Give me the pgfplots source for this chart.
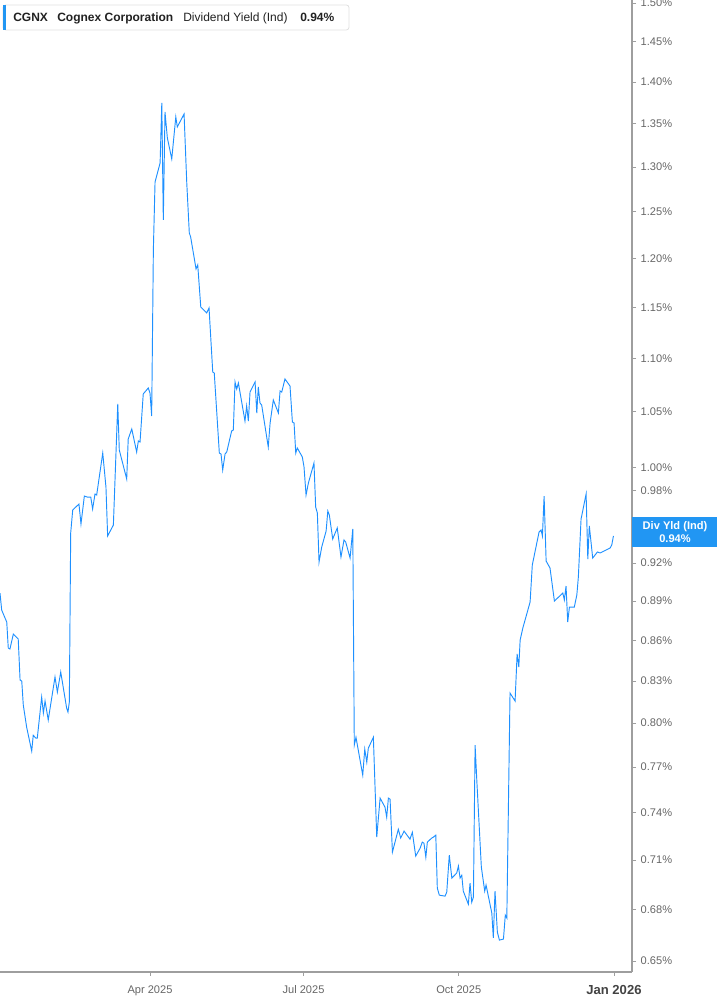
\documentclass[border=0pt]{standalone}
\usepackage{fontspec}
\setmainfont{Liberation Sans}
\usepackage{pgfplots}
\pgfplotsset{compat=1.18}
\definecolor{yldblue}{HTML}{1E90FF}
\definecolor{boxblue}{HTML}{2196F3}
\definecolor{axisgray}{HTML}{9E9E9E}
\definecolor{ticktext}{HTML}{666666}
\definecolor{headtext}{HTML}{222222}

\begin{document}
\begin{tikzpicture}
% fix the page to the reference size before anything else is drawn
\path[use as bounding box] (0,0) rectangle (537.75pt,753.75pt);
\begin{axis}[
    at={(0pt,24.75pt)}, anchor=south west,
    scale only axis, width=474pt, height=729pt,
    xmin=1.1, xmax=375.7,
    ymode=log, ymin=0.6438, ymax=1.504,
    axis x line*=bottom, axis y line*=right,
    axis line style={axisgray, line width=0.8pt},
    tick align=outside, major tick length=3pt,
    tick style={axisgray, line width=0.6pt},
    xtick={90,181,273,365},
    xticklabels={Apr 2025, Jul 2025, Oct 2025, {\fontsize{9.8}{11}\selectfont\bfseries\color{headtext!85}Jan 2026}},
    xticklabel style={yshift=-3.5pt},
    ytick={0.65,0.68,0.71,0.74,0.77,0.80,0.83,0.86,0.89,0.92,0.98,1.00,1.05,1.10,1.15,1.20,1.25,1.30,1.35,1.40,1.45,1.50},
    yticklabels={0.65\%,0.68\%,0.71\%,0.74\%,0.77\%,0.80\%,0.83\%,0.86\%,0.89\%,0.92\%,0.98\%,1.00\%,1.05\%,1.10\%,1.15\%,1.20\%,1.25\%,1.30\%,1.35\%,1.40\%,1.45\%,1.50\%},
    minor tick num=0,
    ticklabel style={font=\fontsize{8.3}{10}\selectfont, text=ticktext},
    yticklabel style={anchor=west},
]
\addplot[yldblue, line width=0.7pt] coordinates {
(1.1,0.8962) (2.1,0.8830) (5.1,0.8738) (6.0,0.8542) (7.0,0.8535) (9.0,0.8647)
(11.9,0.8610) (13.0,0.8307) (14.0,0.8299) (14.9,0.8128) (16.9,0.7973) (19.9,0.7807)
(20.8,0.7917) (22.3,0.7897) (23.2,0.7897) (25.8,0.8184) (26.8,0.8071) (27.8,0.8156)
(29.7,0.8022) (33.7,0.8329) (35.1,0.8220) (37.1,0.8365) (40.6,0.8106) (41.4,0.8078)
(42.2,0.8149) (43.0,0.9444) (44.2,0.9636) (47.9,0.9686) (49.1,0.9519) (51.1,0.9754)
(52.9,0.9745) (54.9,0.9745) (56.0,0.9644) (57.4,0.9771) (58.4,0.9763) (62.0,1.0127)
(63.9,0.9831) (64.9,0.9420) (68.3,0.9510) (70.9,1.0570) (71.8,1.0154) (76.2,0.9900)
(77.1,1.0252) (79.2,1.0342) (82.1,1.0136) (83.1,1.0234) (84.1,1.0225) (86.0,1.0663)
(89.0,1.0719) (90.0,1.0672) (91.0,1.0460) (92.0,1.2091) (93.0,1.2831) (96.0,1.3045)
(97.0,1.3747) (97.9,1.2412) (98.9,1.3639) (100.3,1.3333) (102.9,1.3091) (105.3,1.3580)
(106.2,1.3462) (110.2,1.3615) (111.8,1.2819) (113.3,1.2272) (114.1,1.2229) (117.3,1.1892)
(118.3,1.1934) (120.1,1.1504) (123.6,1.1444) (125.0,1.1494) (127.2,1.0869) (128.1,1.0860)
(131.1,1.0127) (132.1,1.0119) (133.1,0.9978) (134.5,1.0119) (135.5,1.0136) (138.4,1.0324)
(139.4,1.0333) (140.4,1.0775) (141.4,1.0709) (142.4,1.0766) (146.3,1.0414) (147.3,1.0552)
(148.3,1.0414) (149.3,1.0681) (152.3,1.0775) (153.3,1.0487) (154.2,1.0728) (155.2,1.0579)
(156.2,1.0561) (160.1,1.0181) (161.2,1.0396) (163.1,1.0607) (166.1,1.0487) (167.1,1.0691)
(168.1,1.0681) (170.0,1.0803) (173.0,1.0737) (174.4,1.0405) (175.4,1.0396) (176.4,1.0127)
(177.3,1.0172) (180.3,1.0092) (181.3,1.0004) (182.5,0.9763) (183.9,0.9866) (187.2,1.0039)
(188.2,0.9661) (189.2,0.9611) (190.2,0.9208) (191.8,0.9330) (194.4,0.9461) (195.4,0.9627)
(196.3,0.9594) (198.3,0.9395) (201.0,0.9486) (203.2,0.9248) (205.0,0.9387) (206.0,0.9370)
(208.6,0.9240) (210.2,0.9477) (211.1,0.7849) (212.1,0.7903) (216.1,0.7646) (217.3,0.7821)
(218.5,0.7733) (219.4,0.7828) (222.4,0.7903) (224.4,0.7243) (226.4,0.7494) (229.3,0.7435)
(230.3,0.7370) (231.3,0.7494) (232.3,0.7487) (233.7,0.7149) (237.2,0.7293) (238.6,0.7237)
(240.6,0.7281) (244.1,0.7230) (245.5,0.7274) (247.5,0.7124) (250.1,0.7173) (251.4,0.7211)
(252.4,0.7204) (253.5,0.7117) (254.4,0.7211) (257.0,0.7237) (258.0,0.7243) (259.4,0.7256)
(260.3,0.6928) (261.5,0.6885) (264.9,0.6879) (265.9,0.6903) (267.4,0.7130) (268.9,0.6988)
(271.8,0.7019) (272.8,0.7062) (273.8,0.6988) (274.8,0.7006) (275.7,0.6909) (278.7,0.6831)
(279.7,0.6958) (280.7,0.6843) (281.7,0.6873) (282.7,0.7849) (283.7,0.7613) (286.4,0.7056)
(288.4,0.6909) (289.2,0.6946) (292.6,0.6778) (293.5,0.6632) (294.5,0.6909) (295.9,0.6666)
(297.1,0.6620) (299.5,0.6626) (300.6,0.6766) (301.5,0.6749) (303.4,0.8213) (306.4,0.8156)
(307.6,0.8498) (308.6,0.8402) (309.4,0.8602) (311.0,0.8693) (315.3,0.8892) (316.6,0.9184)
(320.6,0.9452) (321.8,0.9469) (322.6,0.9420) (323.6,0.9754) (324.8,0.9216) (327.1,0.9160)
(329.7,0.8900) (334.7,0.8962) (335.6,0.8908) (336.6,0.9017) (337.6,0.8738) (338.6,0.8853)
(341.5,0.8853) (343.0,0.8947) (343.9,0.9088) (345.5,0.9560) (348.5,0.9771) (349.5,0.9232)
(350.4,0.9502) (352.4,0.9240) (355.2,0.9289) (356.8,0.9281) (362.7,0.9321) (363.7,0.9346)
(364.7,0.9420)
};
\end{axis}
\begin{scope}[x=0.75pt,y=0.75pt]
% header box
\draw[draw=black!12, fill=white, rounded corners=2pt, line width=0.6pt] (3,1000) rectangle (349,975);
\fill[boxblue] (3,1000) rectangle (5.5,975);
\node[anchor=base west, inner sep=0pt, text=headtext, font=\fontsize{9}{11}\selectfont\bfseries] at (13,983.5) {CGNX};
\node[anchor=base west, inner sep=0pt, text=headtext, font=\fontsize{9}{11}\selectfont\bfseries] at (57,983.5) {Cognex Corporation};
\node[anchor=base west, inner sep=0pt, text=headtext, font=\fontsize{9}{11}\selectfont] at (183,983.5) {Dividend Yield (Ind)};
\node[anchor=base west, inner sep=0pt, text=headtext, font=\fontsize{9}{11}\selectfont\bfseries] at (300,983.5) {0.94\%};
% last value box on the axis
\fill[boxblue] (632,488) rectangle (717,458);
\node[text=white, inner sep=0pt, font=\fontsize{8.3}{10}\selectfont\bfseries] at (675,478) {Div Yld (Ind)};
\node[text=white, inner sep=0pt, font=\fontsize{8.3}{10}\selectfont\bfseries] at (675,466) {0.94\%};
\end{scope}
\end{tikzpicture}
\end{document}
